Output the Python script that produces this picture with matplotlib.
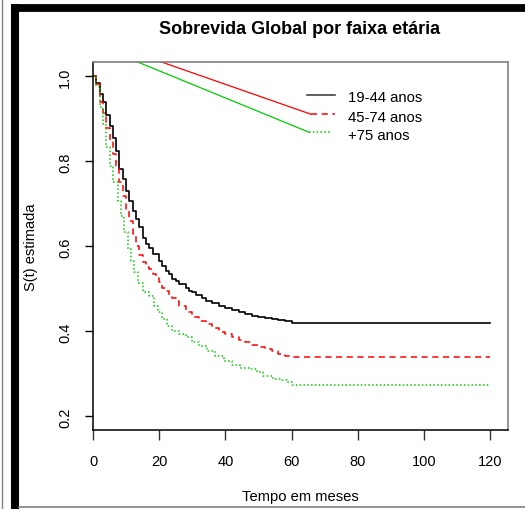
import matplotlib
matplotlib.use("Agg")
import matplotlib.pyplot as plt
from matplotlib.lines import Line2D

plt.rcParams['font.family'] = ['Liberation Sans', 'DejaVu Sans']

# curvas de Kaplan-Meier por faixa etaria (tempo em meses, S(t))
t_19_44 = [0, 1, 2, 3, 4, 5, 6, 7, 8, 9, 10, 11, 12, 13, 14, 15, 16, 17, 18,
           20, 21, 22, 23, 24, 25, 26, 28, 29, 30, 31, 33, 34, 36, 38, 40,
           42, 44, 46, 48, 50, 52, 54, 56, 58, 60]
s_19_44 = [1.0, 0.984, 0.958, 0.939, 0.909, 0.884, 0.856, 0.825, 0.782, 0.758,
           0.731, 0.707, 0.684, 0.664, 0.645, 0.621, 0.605, 0.596, 0.583,
           0.566, 0.555, 0.543, 0.535, 0.523, 0.519, 0.511, 0.501, 0.496,
           0.492, 0.486, 0.478, 0.472, 0.468, 0.460, 0.454, 0.451, 0.446,
           0.441, 0.437, 0.433, 0.431, 0.429, 0.427, 0.425, 0.42]

t_45_74 = [0, 1, 2, 3, 4, 5, 6, 7, 8, 9, 10, 11, 12, 13, 14, 15, 16, 17, 18,
           19, 20, 21, 22, 23, 24, 25, 26, 28, 30, 32, 34, 36, 38, 40, 42,
           44, 46, 48, 50, 52, 54, 56, 58, 60]
s_45_74 = [1.0, 0.982, 0.939, 0.915, 0.878, 0.848, 0.817, 0.790, 0.751, 0.719,
           0.684, 0.660, 0.630, 0.600, 0.580, 0.563, 0.552, 0.548, 0.535,
           0.525, 0.517, 0.503, 0.496, 0.484, 0.478, 0.472, 0.460, 0.445,
           0.433, 0.425, 0.417, 0.409, 0.399, 0.394, 0.386, 0.380, 0.374,
           0.368, 0.364, 0.358, 0.354, 0.348, 0.343, 0.34]

t_75 = [0, 1, 2, 3, 3.8, 5, 6, 7.5, 8.5, 9.5, 10.5, 11.5, 12.5, 13.5, 15, 17,
        18.5, 19.5, 21, 22.5, 24, 26, 28, 30, 32, 34.5, 37, 39.5, 42, 44.5,
        47, 49.5, 51.5, 54.5, 57, 58.5, 60]
s_75 = [1.0, 0.978, 0.927, 0.888, 0.833, 0.790, 0.751, 0.707, 0.672, 0.633,
        0.594, 0.566, 0.539, 0.515, 0.492, 0.484, 0.460, 0.445, 0.429, 0.413,
        0.401, 0.394, 0.386, 0.374, 0.365, 0.354, 0.343, 0.331, 0.321, 0.315,
        0.311, 0.304, 0.296, 0.289, 0.286, 0.280, 0.275]

t_fim = 120
grupos = ['19-44 anos', '45-74 anos', '+75 anos']
cores = ['black', '#FF0000', '#00CC00']

fig = plt.figure(figsize=(5.25, 5.1), dpi=100)
ax = fig.add_axes([93 / 525, 1 - 431 / 510, (508 - 93) / 525, (431 - 63) / 510])

series = [(t_19_44, s_19_44), (t_45_74, s_45_74), (t_75, s_75)]
estilos = [dict(linestyle='-', linewidth=1.2),
           dict(linestyle=(0, (4, 3)), linewidth=1.1),
           dict(linestyle=(0, (1, 1.5)), linewidth=1.1)]
for (t, s), cor, est in zip(series, cores, estilos):
    ax.step(t + [t_fim], s + [s[-1]], where='post', color=cor, **est)

ax.set_xlim(0, 125.4)
ax.set_ylim(0.168, 1.034)

# legenda desenhada nas coordenadas dos dados
leg_x0 = [64.6, 65.9, 65.2]
leg_x1 = [73.1, 73.1, 72.2]
leg_y = [0.957, 0.911, 0.869]
for x0, x1, y, cor, est, rot in zip(leg_x0, leg_x1, leg_y, cores, estilos, grupos):
    ax.plot([x0, x1], [y, y], color='#444444' if cor == 'black' else cor, **est)
    ax.text(77.0, y - 0.006, rot, fontsize=10.7, va='center', ha='left')

# tracos ligando o topo a legenda
ax.plot([20.7, 65.9], [1.034, 0.911], color='#FF0000', linewidth=0.9)
ax.plot([13.5, 65.2], [1.034, 0.869], color='#00CC00', linewidth=0.9)

ax.set_xticks([0, 20, 40, 60, 80, 100, 120])
ax.set_yticks([0.2, 0.4, 0.6, 0.8, 1.0])
ax.set_yticklabels(['0.2', '0.4', '0.6', '0.8', '1.0'], rotation=90, va='center')
ax.tick_params(axis='x', length=7, width=1, colors='#333333', pad=10,
               labelsize=10.5, labelcolor='black')
ax.tick_params(axis='y', length=6, width=1, colors='black', pad=9,
               labelsize=10.5)

ax.spines['left'].set_color('black')
ax.spines['bottom'].set_color('black')
ax.spines['left'].set_linewidth(1.1)
ax.spines['bottom'].set_linewidth(1.1)
ax.spines['top'].set_color('#808080')
ax.spines['right'].set_color('#808080')
ax.spines['top'].set_linewidth(1.2)
ax.spines['right'].set_linewidth(1.2)

fig.text(300 / 525, 1 - 29 / 510, 'Sobrevida Global por faixa etária',
         ha='center', va='center', fontsize=13, fontweight='bold')
fig.text(300 / 525, 1 - 497 / 510, 'Tempo em meses', ha='center', va='center',
         fontsize=10.6)
fig.text(31 / 525, 1 - 247 / 510, 'S(t) estimada', ha='center', va='center',
         rotation=90, fontsize=10.5)

# moldura externa
fig.add_artist(Line2D([2 / 525, 2 / 525], [0, 1], color='#808080', linewidth=1.0))
fig.add_artist(Line2D([15 / 525, 15 / 525], [0, 1 - 5 / 510], color='black',
                      linewidth=5.8, solid_capstyle='butt'))
fig.add_artist(Line2D([11 / 525, 1], [1 - 9 / 510, 1 - 9 / 510], color='black',
                      linewidth=5.6, solid_capstyle='butt'))
fig.add_artist(Line2D([19 / 525, 1], [1 - 508 / 510, 1 - 508 / 510],
                      color='#808080', linewidth=1.2))

fig.savefig('out.png', dpi=100)
